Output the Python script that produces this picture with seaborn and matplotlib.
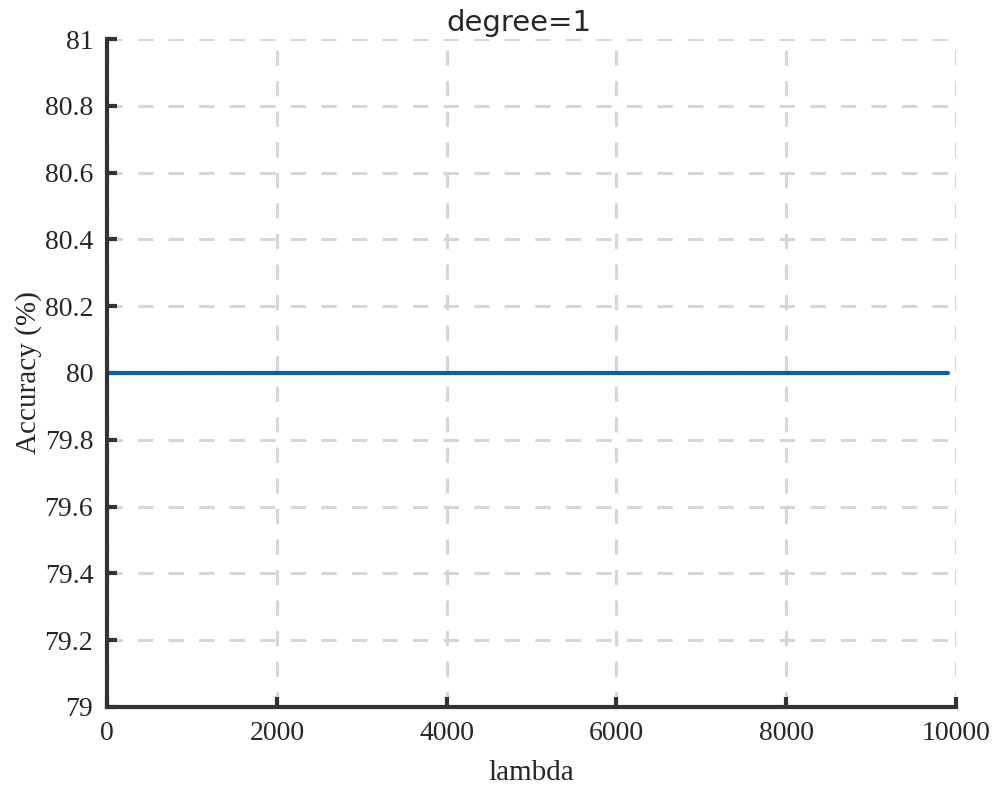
import numpy as np
import pandas as pd
import seaborn as sns
import matplotlib.pyplot as plt

lam = [0, 9900]
accuracy = [80, 80]
x_ticks = [0, 2000, 4000, 6000, 8000, 10000]
y_ticks = [79, 79.2, 79.4, 79.6, 79.8, 80, 80.2, 80.4, 80.6, 80.8, 81]
y_labels = ["79", "79.2", "79.4", "79.6", "79.8", "80", "80.2", "80.4", "80.6", "80.8", "81"]

df = pd.DataFrame({"lambda": lam, "Accuracy": accuracy})

sns.set_style("white")
plt.rcParams["font.family"] = ["Liberation Serif", "DejaVu Serif"]

fig = plt.figure(figsize=(10.04, 7.88), dpi=100)
ax = fig.add_axes([0.1066, 0.1028, 0.8456, 0.8477])

sns.lineplot(data=df, x="lambda", y="Accuracy", ax=ax, color="#0b5ea8", linewidth=3)

ax.set_xlim(0, 10000)
ax.set_ylim(79, 81)
ax.set_xticks(x_ticks)
ax.set_yticks(y_ticks)
ax.set_yticklabels(y_labels)
ax.tick_params(bottom=True, left=True, direction="in", length=7, width=3,
               color="#333333", labelsize=20, pad=10)

ax.grid(True, linestyle=(0, (5, 5)), color="#d6d6d6", linewidth=2.2)
for s in ["top", "right"]:
    ax.spines[s].set_visible(False)
for s in ["left", "bottom"]:
    ax.spines[s].set_color("#333333")
    ax.spines[s].set_linewidth(3)

ax.set_xlabel("lambda", fontsize=21, labelpad=10)
ax.set_ylabel("Accuracy (%)", fontsize=21, labelpad=2)
ax.set_title("degree=1", fontsize=21, family=["DejaVu Sans"], pad=6, x=0.485)

fig.savefig("out.png", dpi=100)
